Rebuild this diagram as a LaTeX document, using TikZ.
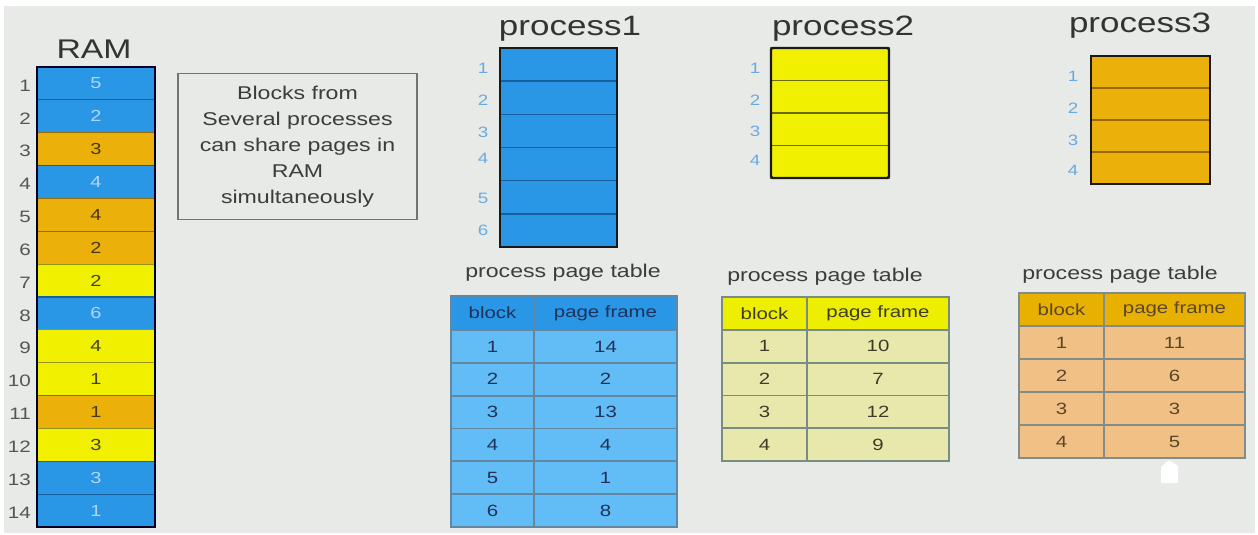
\documentclass[tikz,border=0pt]{standalone}
\usepackage{fontspec}
\setmainfont{Liberation Sans}
\usepackage{graphicx}
\newcommand{\st}[1]{\scalebox{1.25}[1]{#1}}
\definecolor{bg}{RGB}{232,234,231}
\definecolor{ramB}{RGB}{42,150,230}
\definecolor{ramO}{RGB}{235,176,10}
\definecolor{ramY}{RGB}{240,240,0}
\definecolor{lineB}{RGB}{25,95,160}
\definecolor{lineO}{RGB}{150,105,10}
\definecolor{lineY}{RGB}{150,150,20}
\definecolor{txtB}{RGB}{175,215,250}
\definecolor{txtO}{RGB}{75,55,15}
\definecolor{txtY}{RGB}{70,65,20}
\definecolor{rownum}{RGB}{85,85,85}
\definecolor{plab}{RGB}{105,170,225}
\definecolor{boxgray}{RGB}{115,115,115}
\definecolor{dtext}{RGB}{60,60,60}
\tikzset{
  ramcell/.style={draw=#1, line width=1.2pt, inner sep=0pt, outer sep=0pt,
    minimum width=118pt, minimum height=32.86pt, font=\fontsize{16}{16}\selectfont},
  rnum/.style={anchor=east, text=rownum, inner sep=0pt, font=\fontsize{16.5}{16.5}\selectfont},
  plabel/.style={text=plab, inner sep=0pt, font=\fontsize{15}{15}\selectfont},
  ptitle/.style={text=black!80, inner sep=0pt, font=\fontsize{28}{28}\selectfont},
  ttitle/.style={text=dtext, inner sep=0pt, font=\fontsize{18.5}{18.5}\selectfont},
  tcell/.style={draw=grid, line width=1.8pt, inner sep=0pt, outer sep=0pt, text=tt,
    font=\fontsize{16.3}{16.3}\selectfont},
  outline/.style={draw=black!90, line width=2.2pt}
}
% #1 prefix, #2 x0, #3 x1, #4 x2, #5 ytop, #6 yhead, #7 rowh, #8 list i/v
\newcommand{\ptable}[8]{%
  \pgfmathsetmacro\wa{#3-#2}%
  \pgfmathsetmacro\wb{#4-#3}%
  \pgfmathsetmacro\hh{#6-#5}%
  \pgfmathsetmacro\xa{(#2+#3)/2}%
  \pgfmathsetmacro\xb{(#3+#4)/2}%
  \pgfmathsetmacro\yh{(#5+#6)/2}%
  \foreach \i/\v in {#8}{%
    \pgfmathsetmacro\yc{#6+(\i-0.5)*#7}%
    \node[tcell, fill=body, minimum width=\wa pt, minimum height=#7 pt] (#1b\i) at (\xa,\yc) {\st{\i}};
    \node[tcell, fill=body, minimum width=\wb pt, minimum height=#7 pt] (#1f\i) at (\xb,\yc) {\st{\v}};
  }
  \node[tcell, fill=hdr, minimum width=\wa pt, minimum height=\hh pt] (#1ha) at (\xa,\yh) {\st{block}};
  \node[tcell, fill=hdr, minimum width=\wb pt, minimum height=\hh pt] (#1hb) at (\xb,\yh) {\st{page frame}};
}
\begin{document}
\begin{tikzpicture}[x=1pt,y=-1pt]
\fill[white] (0,0) rectangle (1258,535);
\fill[bg] (4,6) rectangle (1255,533);
\useasboundingbox (0,0) rectangle (1258,535);

% RAM
\node[inner sep=0pt, text=black!80, font=\fontsize{27}{27}\selectfont] (ramtitle) at (94,49) {\st{RAM}};
\foreach \i/\c/\v in {1/B/5,2/B/2,3/O/3,4/B/4,5/O/4,6/O/2,7/Y/2,8/B/6,9/Y/4,10/Y/1,11/O/1,12/Y/3,13/B/3,14/B/1}{
  \pgfmathsetmacro\yc{67+(\i-0.5)*32.857}
  \node[ramcell=line\c, fill=ram\c, text=txt\c] (ram\i) at (96,\yc) {\st{\v}};
  \node[rnum] (rn\i) at (31,\yc+2) {\st{\i}};
}
\draw[draw=black!85!blue, line width=2pt] (ram1.north west) rectangle (ram14.south east);

% text box
\node[draw=boxgray, line width=1.5pt, minimum width=239pt, minimum height=146pt, inner sep=0pt,
  align=center, text=dtext, font=\fontsize{18.5}{26}\selectfont] (note) at (297.5,146.5)
  {\st{Blocks from}\\\st{Several processes}\\\st{can share pages in}\\\st{RAM}\\\st{simultaneously}};

% process1
\node[ptitle] (p1title) at (570,29) {\st{process1}};
\foreach \i in {1,...,6}{
  \pgfmathsetmacro\yc{48+(\i-0.5)*33.17}
  \node[draw=lineB, line width=1.5pt, fill=ramB, minimum width=117pt, minimum height=33.17pt, inner sep=0pt, outer sep=0pt] (p1c\i) at (558.5,\yc) {};
}
\draw[outline] (p1c1.north west) rectangle (p1c6.south east);
\foreach \i/\y in {1/68,2/100,3/132,4/158,5/198,6/230}{
  \node[plabel] (p1l\i) at (483,\y) {\st{\i}};
}

% process2
\node[ptitle] (p2title) at (843,29) {\st{process2}};
\foreach \i in {1,...,4}{
  \pgfmathsetmacro\yc{48+(\i-0.5)*32.5}
  \node[draw=lineY!70!black, line width=1.5pt, fill=ramY, minimum width=118pt, minimum height=32.5pt, inner sep=0pt, outer sep=0pt] (p2c\i) at (830,\yc) {};
}
\draw[outline, rounded corners=1.5pt] (p2c1.north west) rectangle (p2c4.south east);
\foreach \i/\y in {1/68,2/100,3/131,4/160}{
  \node[plabel] (p2l\i) at (755,\y) {\st{\i}};
}

% process3
\node[ptitle] (p3title) at (1140,26) {\st{process3}};
\foreach \i in {1,...,4}{
  \pgfmathsetmacro\yc{56+(\i-0.5)*32}
  \node[draw=lineO, line width=1.5pt, fill=ramO, minimum width=119pt, minimum height=32pt, inner sep=0pt, outer sep=0pt] (p3c\i) at (1150.5,\yc) {};
}
\draw[outline] (p3c1.north west) rectangle (p3c4.south east);
\foreach \i/\y in {1/76,2/108,3/140,4/170}{
  \node[plabel] (p3l\i) at (1073,\y) {\st{\i}};
}

% page table 1
\node[ttitle] (t1title) at (563,273) {\st{process page table}};
\colorlet{hdr}{ramB}\definecolor{body}{RGB}{98,188,245}\definecolor{grid}{RGB}{100,135,160}\definecolor{tt}{RGB}{30,50,90}
\ptable{ta}{451}{534}{677}{296}{330}{32.83}{1/14,2/2,3/13,4/4,5/1,6/8}

% page table 2
\node[ttitle] (t2title) at (825,277) {\st{process page table}};
\definecolor{hdr}{RGB}{238,238,0}\definecolor{body}{RGB}{232,232,172}\definecolor{grid}{RGB}{120,140,130}\definecolor{tt}{RGB}{60,60,40}
\ptable{tb}{722}{807}{949}{297}{330}{32.75}{1/10,2/7,3/12,4/9}

% page table 3
\node[ttitle] (t3title) at (1120,275) {\st{process page table}};
\definecolor{hdr}{RGB}{232,176,0}\definecolor{body}{RGB}{240,192,132}\definecolor{grid}{RGB}{130,140,140}\definecolor{tt}{RGB}{90,70,40}
\ptable{tc}{1019}{1104}{1245}{293}{326}{33}{1/11,2/6,3/3,4/5}

% small white marker
\fill[white, rounded corners=1pt] (1161,483) -- (1161,467) -- (1169,460) -- (1178,466) -- (1178,483) -- cycle;
\end{tikzpicture}
\end{document}
